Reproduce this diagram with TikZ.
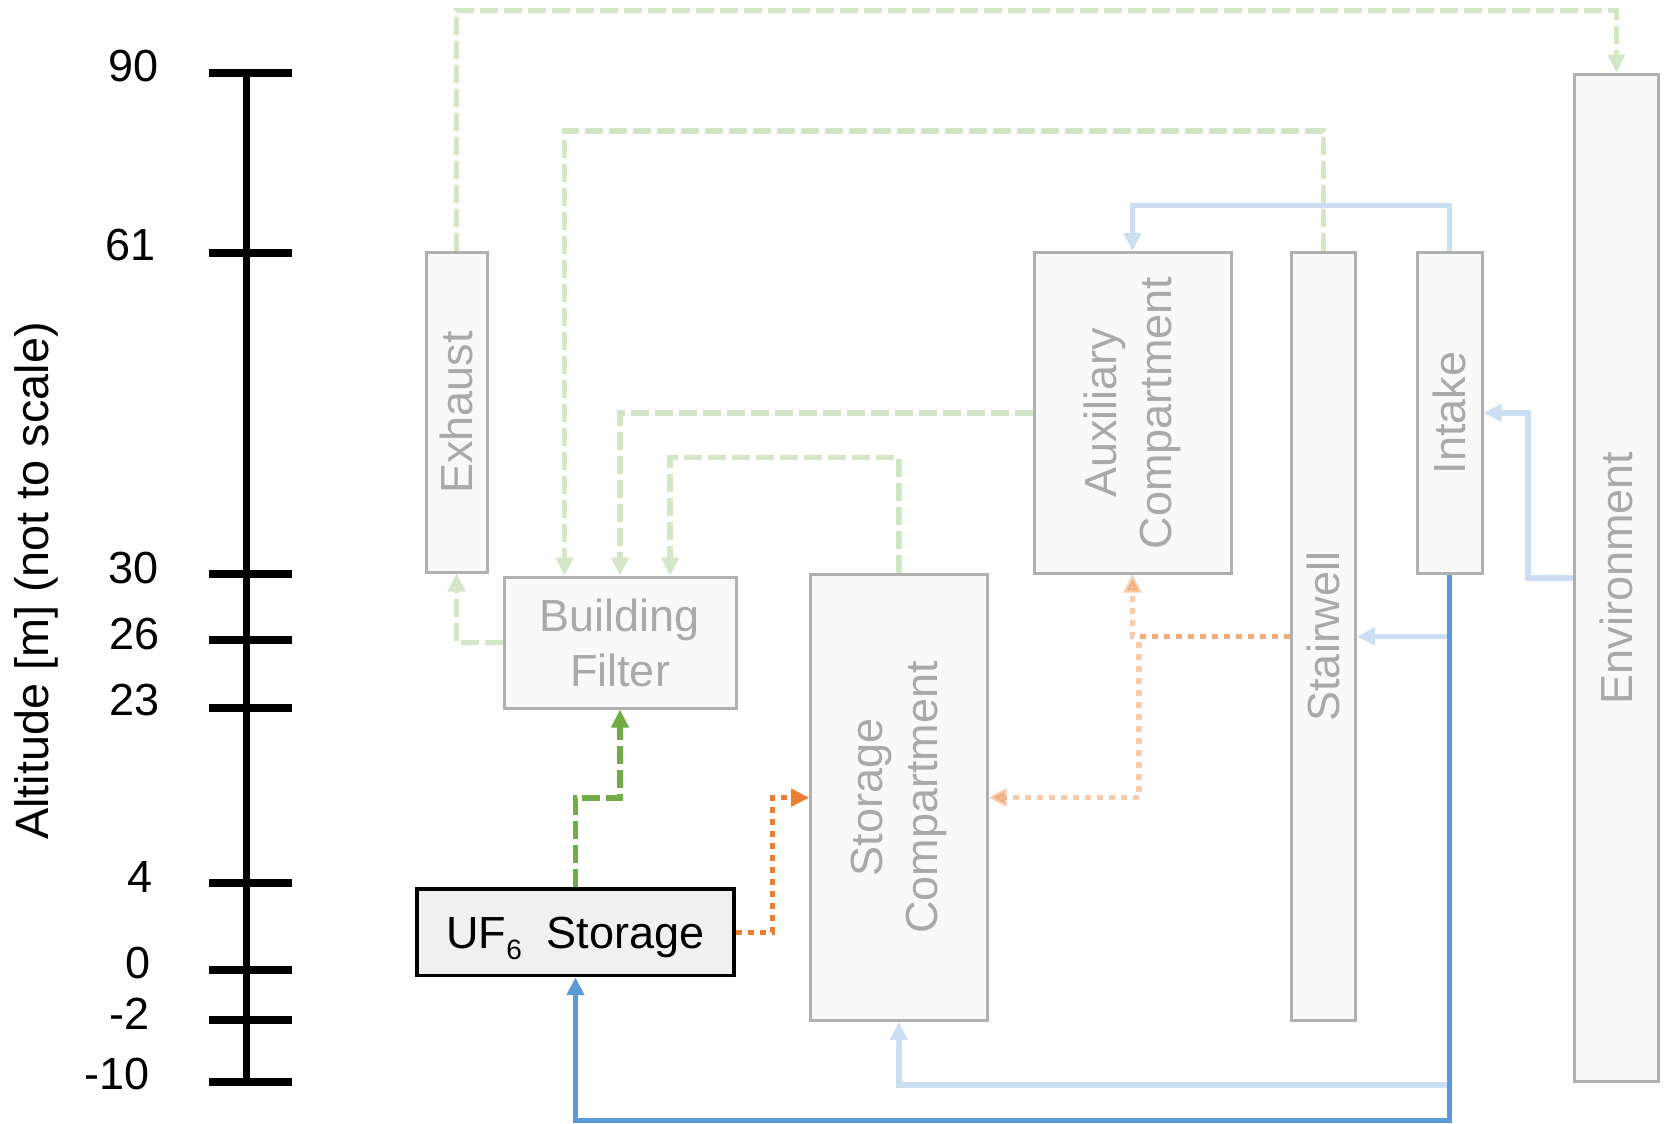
\documentclass[tikz,border=0pt]{standalone}
\usepackage{fontspec}
\setmainfont{Liberation Sans}
\usetikzlibrary{arrows.meta}
\definecolor{boxfill}{HTML}{F9F9F9}
\definecolor{boxline}{HTML}{B0B0B0}
\definecolor{greytext}{HTML}{A9A9A9}
\definecolor{ufill}{HTML}{F0F0F0}
\definecolor{dgreen}{HTML}{70AD47}
\definecolor{lgreen}{HTML}{D4E6C8}
\definecolor{dorange}{HTML}{ED7D31}
\definecolor{dblue}{HTML}{5B9BD5}
\definecolor{lblue}{HTML}{CCDFF2}
\begin{document}
\begin{tikzpicture}[x=0.5pt,y=-0.5pt,
  every node/.style={inner sep=0pt,font=\fontsize{22.5}{27.5}\selectfont},
  gbox/.style={draw=boxline,fill=boxfill,line width=1.5pt,text=greytext},
  ubox/.style={draw=black,fill=ufill,line width=1.75pt,text=black},
  flow/.style={line width=2.7pt,-{Triangle[length=9pt,width=8.5pt]}},
  dashd/.style={dash pattern=on 9pt off 3pt},
  dotd/.style={dash pattern=on 3pt off 3pt},
  lgflow/.style={flow,dashd,draw=lgreen},
  dgflow/.style={flow,dashd,draw=dgreen},
  orflow/.style={flow,dotd,draw=dorange},
  peflow/.style={flow,dotd,draw=dorange,opacity=0.4},
  lbflow/.style={flow,draw=lblue},
  dbflow/.style={flow,draw=dblue},
  axisline/.style={line width=3.5pt},
  tickline/.style={line width=4pt},
  ticklabel/.style={anchor=east}
]
\useasboundingbox (0,0) rectangle (1665,1124);

% ---- altitude axis ----
\draw[axisline] (246,73) -- (246,1081.6);
\foreach \y in {73,252.5,574.4,640,707.5,883,970,1020,1081.6}
  \draw[tickline] (209,\y) -- (292,\y);
\node[ticklabel] (l90) at (159,66) {90};
\node[ticklabel] (l61) at (156,245.5) {61};
\node[ticklabel] (l30) at (159,568) {30};
\node[ticklabel] (l26) at (160,634) {26};
\node[ticklabel] (l23) at (160,700) {23};
\node[ticklabel] (l4) at (153,877) {4};
\node[ticklabel] (l0) at (151,963) {0};
\node[ticklabel] (lm2) at (150,1014) {-2};
\node[ticklabel] (lm10) at (150,1074) {-10};
\node[rotate=90,font=\fontsize{23.4}{28}\selectfont] (alt) at (36,581) {Altitude [m] (not to scale)};

% ---- boxes ----
\node[gbox, minimum width=30.5pt, minimum height=159.7pt] (exh) at (456.5,412.3) {\rotatebox{90}{Exhaust}};
\node[gbox, align=center, minimum width=116pt, minimum height=65.5pt] (bf) at (620,642.5) {Building\\Filter};
\node[gbox, minimum width=88.2pt, minimum height=223pt] (stor) at (898.8,797.5)
  {\rotatebox{90}{\begin{tabular}{@{}c@{}}Storage\\Compartment\end{tabular}}};
\node[gbox, minimum width=98.5pt, minimum height=160.2pt] (aux) at (1132.5,412.8)
  {\rotatebox{90}{\begin{tabular}{@{}c@{}}Auxiliary\\Compartment\end{tabular}}};
\node[gbox, minimum width=32.2pt, minimum height=383.9pt] (stair) at (1323.2,636.5) {\rotatebox{90}{Stairwell}};
\node[gbox, minimum width=32.5pt, minimum height=160.2pt] (intake) at (1449.5,412.8) {\rotatebox{90}{Intake}};
\node[gbox, minimum width=41.8pt, minimum height=503.8pt] (env) at (1616.4,577.8) {\rotatebox{90}{Environment}};
\node[ubox, minimum width=158.5pt, minimum height=43.25pt, text height=16.1pt, text depth=0pt] (uf) at (575.5,932.2)
  {UF\raisebox{-5.5pt}[0pt][0pt]{\fontsize{14}{14}\selectfont 6}\ \ Storage};

% ---- light connectors ----
\draw[lgflow] (exh.north) |- (1616.4,10.3) -- (env.north);
\draw[lgflow] (stair.north) |- (564.5,131) -- (564.5,131 |- bf.north);
\draw[lgflow] (aux.west) -| (bf.north);
\draw[lgflow] (stor.north) |- (670,457.7) -- (670,457.7 |- bf.north);
\draw[lgflow] (bf.west) -| (exh.south);

\draw[lbflow] (intake.north) |- (1132.5,205.5) -- (aux.north);
\draw[lbflow] (env.west) -| (1528,412.8) -- (intake.east);
\draw[lbflow] (intake.south) |- (stair.east);
\draw[lbflow] (intake.south) |- (898.8,1085) -- (stor.south);

\draw[peflow] (stair.west) -| (aux.south);
\draw[peflow] (stair.west) -| (1139,797.5) -- (stor.east |- 1139,797.5);

% ---- highlighted connectors ----
\draw[dgflow] (uf.north) |- (620,798) -- (bf.south);
\draw[orflow] (uf.east) -| (772.7,797.7) -- (stor.west |- 772.7,797.7);
\draw[dbflow] (intake.south) |- (575.5,1120.5) -- (uf.south);
\end{tikzpicture}
\end{document}
